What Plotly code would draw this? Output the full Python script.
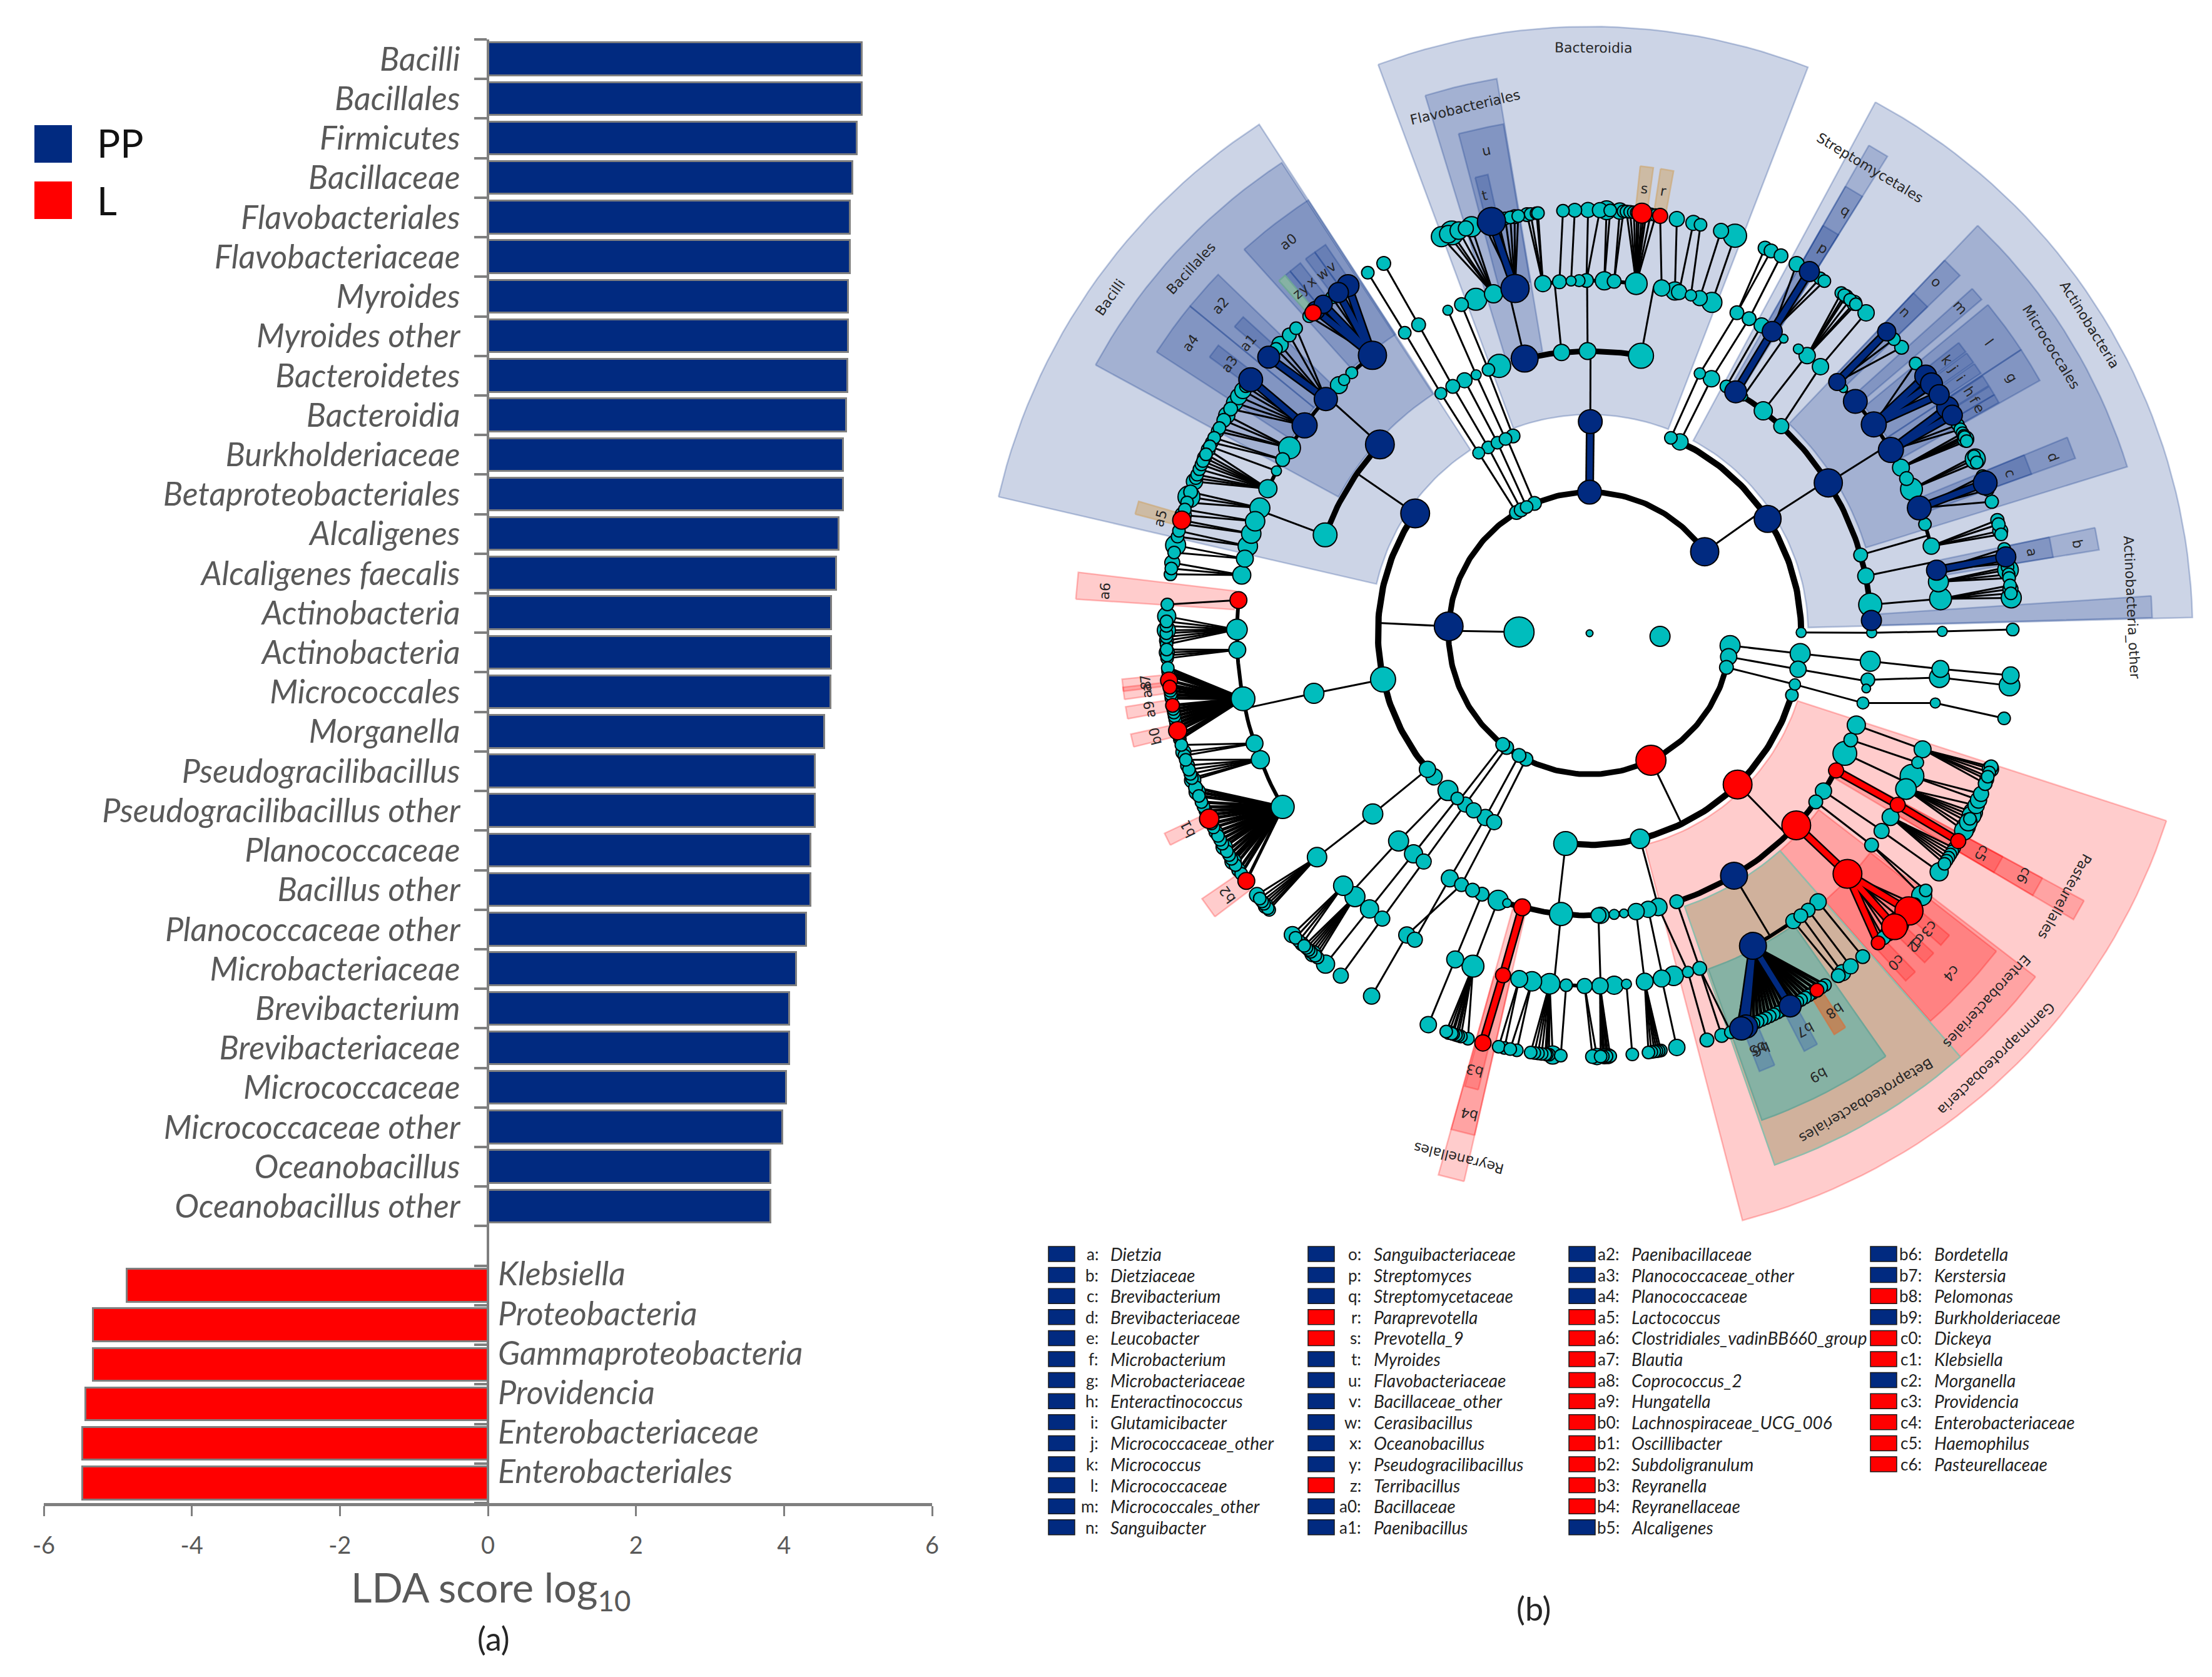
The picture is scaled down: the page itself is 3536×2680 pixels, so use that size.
import math
import plotly.graph_objects as go

W, H = 3536, 2680

# ---------- panel (a) data ----------
BLUE_NAMES = ["Bacilli","Bacillales","Firmicutes","Bacillaceae","Flavobacteriales","Flavobacteriaceae","Myroides",
              "Myroides other","Bacteroidetes","Bacteroidia","Burkholderiaceae","Betaproteobacteriales","Alcaligenes",
              "Alcaligenes faecalis","Actinobacteria","Actinobacteria","Micrococcales","Morganella","Pseudogracilibacillus",
              "Pseudogracilibacillus other","Planococcaceae","Bacillus other","Planococcaceae other","Microbacteriaceae",
              "Brevibacterium","Brevibacteriaceae","Micrococcaceae","Micrococcaceae other","Oceanobacillus","Oceanobacillus other"]
BLUE_VALUES = [5.05,5.05,4.99,4.93,4.89,4.89,4.87,4.87,4.86,4.84,4.80,4.80,4.74,4.71,4.64,4.64,4.63,4.55,4.42,4.42,
               4.36,4.36,4.30,4.17,4.07,4.07,4.03,3.98,3.82,3.82]
RED_NAMES = ["Klebsiella","Proteobacteria","Gammaproteobacteria","Providencia","Enterobacteriaceae","Enterobacteriales"]
RED_VALUES = [-4.88,-5.33,-5.33,-5.43,-5.48,-5.48]
X_TICKS = [-6,-4,-2,0,2,4,6]
X_TICK_TEXT = ["-6","-4","-2","0","2","4","6"]

# ---------- panel (b) legend data ----------
LEGEND_COLUMNS = [
 [("a","Dietzia","b"),("b","Dietziaceae","b"),("c","Brevibacterium","b"),("d","Brevibacteriaceae","b"),("e","Leucobacter","b"),
  ("f","Microbacterium","b"),("g","Microbacteriaceae","b"),("h","Enteractinococcus","b"),("i","Glutamicibacter","b"),
  ("j","Micrococcaceae_other","b"),("k","Micrococcus","b"),("l","Micrococcaceae","b"),("m","Micrococcales_other","b"),("n","Sanguibacter","b")],
 [("o","Sanguibacteriaceae","b"),("p","Streptomyces","b"),("q","Streptomycetaceae","b"),("r","Paraprevotella","r"),("s","Prevotella_9","r"),
  ("t","Myroides","b"),("u","Flavobacteriaceae","b"),("v","Bacillaceae_other","b"),("w","Cerasibacillus","b"),("x","Oceanobacillus","b"),
  ("y","Pseudogracilibacillus","b"),("z","Terribacillus","r"),("a0","Bacillaceae","b"),("a1","Paenibacillus","b")],
 [("a2","Paenibacillaceae","b"),("a3","Planococcaceae_other","b"),("a4","Planococcaceae","b"),("a5","Lactococcus","r"),
  ("a6","Clostridiales_vadinBB660_group","r"),("a7","Blautia","r"),("a8","Coprococcus_2","r"),("a9","Hungatella","r"),
  ("b0","Lachnospiraceae_UCG_006","r"),("b1","Oscillibacter","r"),("b2","Subdoligranulum","r"),("b3","Reyranella","r"),
  ("b4","Reyranellaceae","r"),("b5","Alcaligenes","b")],
 [("b6","Bordetella","b"),("b7","Kerstersia","b"),("b8","Pelomonas","r"),("b9","Burkholderiaceae","b"),("c0","Dickeya","r"),
  ("c1","Klebsiella","r"),("c2","Morganella","b"),("c3","Providencia","r"),("c4","Enterobacteriaceae","r"),("c5","Haemophilus","r"),
  ("c6","Pasteurellaceae","r")],
]

# ---------- cladogram data: (child level, parent angle, [(angle, size[, kind])]) ----------
KINGDOMS = [(0,0,11),(1,271,48),(1,92.5,32)]
CLADES_TOP = [
 (2,271,[(95,32),(99.6,26),(104,22),(154.2,48,'r'),(206.8,22),(210,22),(216,22),(218,22),(272.8,46,'b'),(328.8,22),(331,22),(333.5,20),(337,22),(360,38,'b'),(414.7,45,'b')]),
 (3,360,[(360.2,38,'b')]),
 (3,54.7,[(22.6,20),(25.3,26),(57.3,43,'b'),(89.8,16)]),
 (3,272.8,[(227.3,26),(230,26),(257.4,40),(304.5,46,'b')]),
 (3,218,[(222,32),(218.7,20)]),(3,216,[(216,24),(213.2,24)]),(3,210,[(209.5,26)]),(3,206.8,[(206.8,24)]),
 (3,154.2,[(107,20),(135.6,46,'r'),(166.2,31),(186.5,38)]),
 (3,95,[(95.5,32)]),(3,99.6,[(99.8,26)]),(3,104,[(104,18)]),
 (3,328.8,[(328.4,19)]),(3,331,[(331.4,20)]),(3,333.5,[(334.2,20)]),(3,337,[(336.6,20),(338.8,22)]),
]
CLADES_L4 = [
 (4,360.2,[(-13.3,43,'b'),(-5.7,26),(-0.4,27),(10.5,40)]),
 (4,22.6,[(23,18)]),(4,25.3,[(25.6,26)]),
 (4,57.3,[(29,20),(31.2,35,'b'),(33,14),(38,29),(42.8,24),(57.8,45,'b'),(73.9,22),(78.3,26),(84.2,37),(87.4,32,'b')]),
 (4,89.8,[(89.9,16)]),
 (4,304.5,[(290.4,38),(312,46,'b')]),(4,257.4,[(257.7,32)]),(4,230,[(230.2,32)]),
 (4,222,[(222.6,32)]),(4,218.7,[(218.6,29)]),(4,216,[(216,24)]),(4,209.5,[(209.7,27)]),(4,206.8,[(207,22)]),
 (4,186.5,[(168,26),(170.5,26),(173,14),(175,16),(177.7,26),(178.2,24),(185.8,37),(193.8,27,'r'),(197,14),(198.9,32),(202.4,22),(204.5,22)]),
 (4,166.2,[(165.9,28)]),
 (4,135.6,[(109,29),(112.2,22),(115.2,38),(119.1,24,'r'),(124,26),(126.7,22),(132.9,46,'r'),(149.2,43,'b'),(162,22)]),
 (4,95.5,[(95.7,32)]),(4,99.8,[(99.5,22),(101.3,14)]),(4,104,[(104.3,19)]),
 (4,328.4,[(328.2,19)]),(4,331.4,[(331,22)]),(4,334.2,[(333.7,24)]),(4,336.6,[(336.3,16)]),(4,338.8,[(339,20),(341.3,37)]),
]
CLADES_L5 = [
 (5,346.7,[(341.2,35),(344.2,29),(347.8,45,'b')]),
 (5,354.3,[(352.4,26),(355.1,22),(357,16)]),
 (5,359.6,[(-1.7,19),(-0.5,22),(2.4,29),(4,22),(7.6,35)]),
 (5,10.5,[(11.8,26),(14,29),(14.7,24),(16.7,18),(18.2,24),(20.3,32)]),
 (5,328.2,[(328.4,20)]),(5,331,[(331,22)]),(5,336.3,[(336.3,16)]),(5,339,[(338.7,22)]),
 (5,31.2,[(31.2,32,'b')]),(5,23,[(24.7,22)]),(5,25.6,[(26.9,22)]),(5,29,[(29.2,24)]),(5,33,[(33.4,14)]),
 (5,38,[(36.3,16),(38.1,26)]),(5,42.8,[(40.9,26)]),
 (5,57.8,[(44.6,27,'b'),(46,14),(48.9,38,'b'),(53.7,40,'b'),(58.7,40,'b'),(62,27),(64,22),(65.9,35),(69.2,38,'b')]),
 (5,73.9,[(72,20),(75.7,26)]),(5,78.3,[(79.7,32,'b'),(81.6,32)]),(5,84.2,[(84.4,35)]),(5,89.9,[(89.7,16)]),
 (5,312,[(294.2,29),(297.4,16),(299.5,22),(301.7,35),(306.1,40,'b'),(311.6,37,'b'),(314.7,27),(315.9,18),(317.6,19),(322,45,'b')]),
 (5,290.4,[(279.5,29),(282.2,27),(284.3,31),(286.4,31),(288.5,31),(290.8,32)]),
 (5,257.7,[(240.5,37),(249,29),(251.8,27),(259.3,38),(267.3,27),(270.6,33),(275.4,27,'r')]),
 (5,230.2,[(230.6,31)]),(5,222.6,[(224.3,31),(221.7,32)]),(5,218.6,[(218.6,29)]),(5,216,[(216,24)]),(5,209.7,[(209.7,24)]),(5,207,[(211.2,26)]),
 (5,185.8,[(180.8,24),(183.8,20),(186.5,33),(189.4,31),(191.5,27)]),
 (5,193.8,[(194.2,24,'r')]),(5,198.9,[(199.3,35)]),(5,202.4,[(202.4,27)]),
 (5,178.2,[(174,16),(176,29),(178.3,26)]),(5,170.5,[(171,27)]),(5,168,[(166.2,31),(168.2,27)]),
 (5,165.9,[(163.8,18)]),(5,162,[(161.8,22)]),
 (5,149.2,[(139.6,26),(141.7,22),(143.2,22),(144.7,24),(152.4,43,'b')]),
 (5,132.9,[(133,46,'r')]),(5,119.1,[(119.1,24,'r')]),(5,124,[(121.4,27),(124.1,24)]),(5,126.7,[(126.9,22)]),
 (5,115.2,[(113.9,38),(116.2,33)]),(5,112.2,[(111.5,19)]),(5,109,[(109.2,27)]),
 (5,95.7,[(95.8,27)]),(5,99.5,[(97.2,32)]),(5,104.3,[(101.4,16)]),
]
CLADES_L6_BACTEROIDETES = [
 (6,347.8,[(345.5,18),(346.6,45,'b'),(347.5,16),(348.5,20),(349.2,18),(349.8,22),(350.3,16)]),
 (6,344.2,[(339.5,32),(340.5,28),(341,38),(342,28),(343,24),(343.8,32)]),
 (6,352.4,[(351.5,22),(352,14),(352.8,14),(353,14)]),(6,355.1,[(356.4,16)]),(6,357,[(358,22)]),
 (6,359.5,[(-0.2,24),(1.4,24)]),(6,2.4,[(2.3,30),(2.8,18)]),(6,4,[(4.1,26),(4.6,16)]),
 (6,7.6,[(5,14),(5.5,14),(6,20),(6.4,14),(6.7,12),(7.1,32,'r'),(7.4,12),(7.7,14),(8.3,14),(9,14)]),
 (6,11.8,[(9.6,24,'r')]),(6,14,[(11.9,24)]),(6,14.7,[(14.2,24)]),(6,16.7,[(15.2,20)]),(6,18.2,[(18.1,24)]),(6,20.3,[(20.1,37)]),
 (6,328.4,[(328.4,20)]),(6,331,[(330.9,22)]),
]
CLADES_L6_ACTINO = [
 (6,31.2,[(29.3,24),(31.3,32,'b'),(33,14),(33.7,14)]),(6,24.7,[(24.5,22),(25.4,22)]),(6,26.9,[(26.9,22)]),
 (6,38.1,[(36.5,20),(37,18),(37.3,22),(38,20),(38.7,24),(39,18)]),(6,40.9,[(40.8,26)]),
 (6,44.6,[(44.6,29,'b'),(46,16),(47.5,22)]),
 (6,53.7,[(50.4,18),(52,16),(52.6,35,'b'),(53.9,35,'b'),(54.5,14),(55.7,32,'b')]),
 (6,58.7,[(57.2,14),(57.8,35,'b'),(59,32,'b'),(60.5,18),(61.2,18)]),
 (6,62,[(61.8,14),(62.2,16),(62.4,14),(62.7,26),(63,14)]),
 (6,65.9,[(65.3,20),(65.7,32),(66.2,20)]),
 (6,69.2,[(68.2,14),(69.2,38,'b'),(70.2,20),(71.9,21)]),
 (6,75.7,[(74.5,21),(75.1,21),(76,24),(76.5,16)]),
 (6,79.7,[(78.5,16),(79.6,32,'b'),(80.5,16)]),(6,81.6,[(81,14),(81.4,33),(82,18),(82.5,16)]),
 (6,84.4,[(83.5,16),(84,24),(84.6,18),(85.2,32)]),(6,89.7,[(89.5,16)]),
]
CLADES_L6_FIRMICUTES = [
 (6,322,[(318.5,16),(322.5,14),(319.2,26,'r'),(319.7,29,'b'),(321,29,'b'),(323.6,32,'b'),(325.2,35,'b')]),
 (6,311.6,[(310.7,35,'b'),(312.2,20),(313,26),(314.8,22),(316.1,18)]),
 (6,306.1,[(302,22),(303,26),(304,26),(305,26),(305.7,14),(306.8,38,'b')]),
 (6,301.7,[(298.5,16),(299,18),(300.2,22),(301,26)]),(6,299.5,[(296.8,14),(297.5,16)]),(6,297.4,[(296.2,16)]),
 (6,294.2,[(291,26),(291.5,20),(292,18),(292.8,20),(293.5,16),(294,16),(294.5,22),(295,18),(295.7,22)]),
 (6,290.8,[(288,20),(288.8,35),(289.5,22)]),(6,288.5,[(286.2,26),(287,20)]),(6,286.4,[(285,18),(285.5,29,'r')]),
 (6,284.3,[(283.2,18),(284,18)]),(6,282.2,[(281,20),(282,32)]),(6,279.5,[(278,18),(278.8,20),(279.6,24)]),
 (6,275.4,[(273.9,20)]),
 (6,270.6,[(268.5,18),(269,22),(269.5,18),(270,18),(270.4,29),(271,18),(271.6,18),(272.3,29)]),
 (6,267.3,[(266.6,14),(267,14),(267.4,24),(267.8,14)]),
 (6,259.3,[(255.5,14),(256,14),(256.7,29,'r'),(257.2,14),(257.7,14),(258.2,14),(258.7,14),(259.2,14),(259.7,14),(260.2,22,'r'),
           (261.2,14),(261.7,14),(262.2,14),(262.7,22,'r'),(263,14),(263.6,27,'r'),(264.3,14),(264.8,14),(265.3,19)]),
 (6,251.8,[(253.2,14),(253.7,24),(254.7,18)]),
 (6,249,[(249.7,26),(250,14),(250.6,14),(251.2,14),(251.8,22),(252.6,14)]),
 (6,240.5,[(234.2,27,'r'),(235.4,14),(236,22),(236.8,14),(237.4,26),(237.8,14),(238.4,14),(239,14),(239.7,26),(240.2,14),(240.8,14),
           (241.4,14),(242,22),(242.7,14),(243.3,14),(244,31,'r'),(244.6,14),(245.2,14),(245.8,14),(246.5,19),(247.4,14),(248,26),(248.6,22)]),
 (6,230.6,[(229.2,20),(229.5,14),(229.9,24),(230.3,14),(230.7,14),(231.2,14),(231.8,24)]),
]
CLADES_L6_OTHERS = [
 (6,224.3,[(222.8,22),(223.4,18),(224,18),(224.6,26)]),
 (6,221.7,[(220,14),(220.4,14),(220.8,26),(221.2,14),(221.6,18),(222,14),(222.4,14)]),
 (6,218.6,[(218.6,29)]),(6,216,[(216,24)]),(6,211.2,[(211,26)]),
 (6,202.4,[(202.4,26)]),
 (6,199.3,[(196.7,16),(197.7,14),(198.1,14),(198.4,20),(198.8,14),(199,14),(199.4,22),(199.8,18)]),
 (6,194.2,[(194.6,26,'r')]),(6,191.5,[(191.6,14),(192.4,20)]),(6,189.4,[(189.9,20),(190.8,14)]),
 (6,186.5,[(185,29),(185.5,14),(185.8,14),(186,14),(186.5,14),(187,14),(187.5,14),(188,20)]),
 (6,183.8,[(183.9,20)]),(6,180.8,[(179,26),(179.6,22)]),
 (6,178.3,[(177.2,14),(177.5,24),(177.7,14),(178,24),(178.2,14),(178.5,14)]),
 (6,174,[(174.2,19)]),(6,171,[(170.3,16),(170.6,20),(170.9,14),(171.2,14),(171.6,14),(172,16)]),(6,168.2,[(168.1,26)]),
 (6,163.8,[(163.9,22)]),(6,161.8,[(160.5,18),(161.8,22)]),
 (6,95.8,[(95.7,27)]),(6,97.2,[(97.1,33)]),(6,101.4,[(101.6,16)]),
]
CLADES_L6_GAMMA = [
 (6,152.4,[(146.2,16),(146.8,18),(147.5,22,'r'),(148.2,14),(148.8,16),(149.4,14),(150,16),(150.6,14),(151.1,14),(151.7,35,'b'),(152.4,14),(153,14),
           (153.6,16),(154.2,14),(154.8,16),(155.4,14),(156,18),(156.6,14),(157.2,16),(157.8,14),(158.3,37,'b'),(159,37,'b'),(159.6,20)]),
 (6,144.7,[(144,22)]),(6,143.2,[(143.3,26)]),(6,141.7,[(141.9,24)]),(6,139.6,[(139.8,22)]),
 (6,133,[(129.8,16),(130.4,18),(131,45,'r'),(132.5,14),(133.9,41,'r'),(133.4,37,'b'),(134.5,16),(135.2,24),(136,22),(137,22,'r')]),
 (6,126.9,[(127.4,14),(128.3,32)]),(6,124.1,[(124.3,29)]),
 (6,121.4,[(120.5,18),(121,18),(121.5,18),(122,20),(122.5,20),(123,20)]),
 (6,119.1,[(119.4,24,'r')]),
 (6,116.2,[(114,26),(115,30),(115.5,30),(116,18),(116.5,28),(117.2,30),(117.8,30)]),
 (6,113.9,[(112.3,24),(113.2,26)]),
 (6,109.2,[(108.4,22),(108.7,26),(109.2,18),(109.8,18),(110.2,22),(110.8,22)]),
]

# ---------- highlighted sectors: (start angle, end angle, inner r, outer r, colour key) ----------
SECTORS = [
 (283,327,3.1,8.6,'b'),(298.5,326.8,4.05,7.97,'b'),(318,327,5.05,7.32,'b'),(309.3,314,5.05,7.32,'b'),(303,309.3,5.05,7.32,'b'),
 (310.8,312.4,6.05,6.65,'b'),(306,307.8,6.05,6.66,'b'),(324.2,325.8,6.05,6.66,'b'),(322.8,324.2,6.05,6.66,'b'),(320.4,322,6.05,6.66,'b'),
 (319.4,320.4,6.05,6.66,'b'),(318.6,319.6,6.05,6.66,'t'),(284.7,286.3,6.05,6.66,'k'),(273.8,276.8,5.05,7.3,'r'),
 (262.9,264.4,6.05,6.66,'r'),(261.9,263.4,6.05,6.66,'r'),(259.5,261,6.05,6.66,'r'),(256,257.6,6.05,6.66,'r'),(243.2,244.8,6.05,6.66,'r'),(232.9,235.6,6.05,6.66,'r'),
 (339.6,21.1+360,3.1,8.6,'b'),(343,350.5,4.05,7.97,'b'),(345.3,350.4,5.05,7.32,'b'),(345.9,347.5,6.05,6.66,'b'),
 (6.2,7.8,6.05,6.66,'k'),(8.7,10.3,6.05,6.66,'k'),
 (28.3,88.5,3.1,8.55,'b'),(29.8,32,4.05,7.97,'b'),(29.8,32,5.05,7.3,'b'),(29.8,32,6.05,6.66,'b'),
 (43.6,72.8,4.1,7.98,'b'),(43.6,46,5.05,7.3,'b'),(43.6,46,6.05,6.66,'b'),(48,49.6,5.05,7.3,'b'),(50.5,56.7,5.05,7.32,'b'),(56.7,60.7,5.05,7.32,'b'),
 (51.8,53.2,6.05,6.66,'b'),(53.4,54.8,6.05,6.66,'b'),(55,56.4,6.05,6.66,'b'),(56.8,58.2,6.05,6.66,'b'),(58.3,59.5,6.05,6.66,'b'),(59.5,60.6,6.05,6.66,'b'),
 (67.7,70.2,5.05,7.32,'b'),(67.7,70.2,6.05,6.66,'b'),(78.2,80.7,5.05,7.32,'b'),(78.2,80.7,6.05,6.66,'b'),(86.2,88.4,4.05,7.98,'b'),
 (192.9,195.6,4.05,7.97,'r'),(192.9,195.6,5.05,7.3,'r'),(193.7,195.4,6.05,6.66,'r'),
 (108,165.4,3.1,8.6,'r'),(127.6,138.8,4.1,7.98,'r'),(128,138.7,5.05,7.32,'r'),(130,131.6,6.05,6.66,'r'),(132.9,134.5,6.05,6.66,'r'),(136.1,137.7,6.05,6.66,'r'),
 (118.4,120.6,4.05,7.97,'r'),(118.4,120.6,5.05,7.3,'r'),(118.4,120.6,6.05,6.66,'r'),
 (138.8,160.8,4.1,7.98,'u'),(145,160.5,5.05,7.32,'t'),(156.8,158.8,6.05,6.66,'s'),(151,152.8,6.05,6.66,'s'),(147,148.6,6.05,6.66,'o'),
]

# ---------- rotated sector labels: (text, angle, radius) ----------
SECTOR_LABELS = [
 ("Bacilli",305,8.3),("Bacillales",312.5,7.66),("a0",322.4,7.0),("a2",311.6,7.0),("a4",306,7.0),("a1",310.4,6.35),("a3",306.8,6.37),
 ("v",324.8,6.35),("w",323.4,6.35),("x",321.6,6.35),("y",320.3,6.35),("z",319.3,6.35),("a5",285,6.3),("a6",275,6.9),
 ("a7",263.6,6.33),("a8",262.7,6.33),("a9",260.2,6.33),("b0",256.7,6.33),("b1",244,6.33),("b2",234.2,6.33),
 ("Bacteroidia",0.4,8.3),("Flavobacteriales",346.7,7.66),("u",347.9,7.0),("t",346.5,6.38),("s",7,6.35),("r",9.5,6.35),
 ("Streptomycetales",31.1,7.7),("q",31.2,7.0),("p",31.2,6.38),("Actinobacteria",58.3,8.33),("Micrococcales",58.2,7.7),
 ("o",44.6,7.0),("n",44.5,6.38),("m",48.7,7.0),("l",53.9,7.0),("g",58.8,7.0),("k",52.6,6.38),("j",54,6.38),("i",55.5,6.38),
 ("h",57.5,6.38),("f",58.8,6.38),("e",60,6.38),("d",69.2,7.03),("c",69.2,6.38),("b",79.6,7.03),("a",79.6,6.38),
 ("Actinobacteria_other",87.3,7.69),("Reyranellales",194,7.67),("b4",194,7.02),("b3",194.7,6.4),
 ("Gammaproteobacteria",136.3,8.34),("Betaproteobacteriales",149.4,7.7),("Enterobacteriales",132.8,7.68),("Pasteurellales",119,7.7),
 ("c4",133.2,7.04),("c6",119.1,7.05),("c5",119.3,6.38),("b9",152.6,7.05),("b7",151.5,6.4),("b8",147,6.38),("b5",158,6.35),("b6",157.6,6.38),
 ("c3",131,6.38),("c2",133.7,6.38),("c1",133.2,6.38),("c0",137,6.38),
]

# ---------- styling / geometry ----------
CX, CY, UNIT = 2541, 1012, 112.75
GREEN, NAVY, RED = "#00BDBD", "#012A80", "#FF0000"
GREY, TXT = "#7F7F7F", "#595959"
KIND_COL = {'g':GREEN,'b':NAVY,'r':RED}
ARC_W = {2:9,3:10,4:9,5:6}
LEAF_MIN_SIZE = 20
SECTOR_FILL = {'b':("rgba(0,42,130,0.2)","rgba(0,42,130,0.25)"),'r':("rgba(255,0,0,0.2)","rgba(255,0,0,0.25)"),
               'u':("#D0B19C","#8FBCAB"),'t':("#86B2A4","#6FA698"),'s':("rgba(70,110,170,0.45)","rgba(70,110,170,0.5)"),
               'o':("rgba(205,120,70,0.75)","rgba(205,120,70,0.8)"),'k':("rgba(205,170,120,0.6)","rgba(205,170,120,0.7)")}

def pos(angle, r):
    a = math.radians(angle)
    return CX + UNIT*r*math.sin(a), CY - UNIT*r*math.cos(a)

fig = go.Figure()

# --- bars ---
n_blue = len(BLUE_NAMES)
blue_y = list(range(n_blue))
red_y = [n_blue + 1 + i for i in range(len(RED_NAMES))]
total = n_blue + 1 + len(RED_NAMES)
fig.add_trace(go.Bar(x=BLUE_VALUES, y=blue_y, orientation='h', width=0.83, name="PP",
                     marker=dict(color=NAVY, line=dict(color=GREY, width=3)), hoverinfo='skip', showlegend=False))
fig.add_trace(go.Bar(x=RED_VALUES, y=red_y, orientation='h', width=0.83, name="L",
                     marker=dict(color=RED, line=dict(color=GREY, width=3)), hoverinfo='skip', showlegend=False))

# --- sectors ---
for a1, a2, r1, r2, key in SECTORS:
    steps = max(2, int((a2-a1)/1.5))
    ang = [a1 + (a2-a1)*i/steps for i in range(steps+1)]
    pts = [pos(t, r2) for t in ang] + [pos(t, r1) for t in reversed(ang)]
    pts.append(pts[0])
    fill, edge = SECTOR_FILL[key]
    fig.add_trace(go.Scatter(x=[p[0] for p in pts], y=[p[1] for p in pts], mode='lines', fill='toself', fillcolor=fill,
                             line=dict(color=edge, width=2.5), xaxis='x2', yaxis='y2', hoverinfo='skip', showlegend=False))

# --- tree ---
ALL_CLADES = CLADES_TOP + CLADES_L4 + CLADES_L5 + CLADES_L6_BACTEROIDETES + CLADES_L6_ACTINO + CLADES_L6_FIRMICUTES + CLADES_L6_OTHERS + CLADES_L6_GAMMA
kind_of = {}
for lev, pa, kids in ALL_CLADES:
    for k in kids:
        kind_of[(lev, round(k[0] % 360, 1))] = k[2] if len(k) > 2 else 'g'

thin_x, thin_y = [], []
fan_x, fan_y = [], []
thick = {'b':([],[]), 'r':([],[])}
arcs = {2:([],[]),3:([],[]),4:([],[]),5:([],[])}
for lev, pa, kids in ALL_CLADES:
    pk = kind_of.get((lev-1, round(pa % 360, 1)), 'g')
    p0 = pos(pa, lev-1)
    if lev <= 5 and len(kids) > 1:
        angles = [k[0] for k in kids]
        lo, hi = min(angles), max(angles)
        pm = pa
        while pm < lo - 180: pm += 360
        while pm > hi + 180: pm -= 360
        lo, hi = min(lo, pm), max(hi, pm)
        xs, ys = arcs[lev]
        n = max(2, int((hi-lo)/1.0))
        for i in range(n+1):
            p = pos(lo + (hi-lo)*i/n, lev)
            xs.append(p[0]); ys.append(p[1])
        xs.append(None); ys.append(None)
        p1 = pos(pa, lev)
        thin_x += [p0[0], p1[0], None]; thin_y += [p0[1], p1[1], None]
    else:
        for k in kids:
            p1 = pos(k[0], lev)
            ck = k[2] if len(k) > 2 else 'g'
            if ck == pk and ck in thick:
                thick[ck][0].extend([p0[0], p1[0], None]); thick[ck][1].extend([p0[1], p1[1], None])
            elif len(kids) >= 15:
                fan_x += [p0[0], p1[0], None]; fan_y += [p0[1], p1[1], None]
            else:
                thin_x += [p0[0], p1[0], None]; thin_y += [p0[1], p1[1], None]

fig.add_trace(go.Scatter(x=thin_x, y=thin_y, mode='lines', line=dict(color='black', width=3), xaxis='x2', yaxis='y2', hoverinfo='skip', showlegend=False))
fig.add_trace(go.Scatter(x=fan_x, y=fan_y, mode='lines', line=dict(color='black', width=5), xaxis='x2', yaxis='y2', hoverinfo='skip', showlegend=False))
for lev, (xs, ys) in arcs.items():
    fig.add_trace(go.Scatter(x=xs, y=ys, mode='lines', line=dict(color='black', width=ARC_W[lev]), xaxis='x2', yaxis='y2', hoverinfo='skip', showlegend=False))
for key, (xs, ys) in thick.items():
    fig.add_trace(go.Scatter(x=xs, y=ys, mode='lines', line=dict(color='black', width=14), xaxis='x2', yaxis='y2', hoverinfo='skip', showlegend=False))
    fig.add_trace(go.Scatter(x=xs, y=ys, mode='lines', line=dict(color=KIND_COL[key], width=9), xaxis='x2', yaxis='y2', hoverinfo='skip', showlegend=False))

nodes = [(lev, a, s, 'g') for lev, a, s in KINGDOMS]
for lev, pa, kids in ALL_CLADES:
    for k in kids:
        size = max(k[1], LEAF_MIN_SIZE) if lev == 6 else k[1]
        nodes.append((lev, k[0], size, k[2] if len(k) > 2 else 'g'))
order = {'g':0,'b':1,'r':2}
nodes.sort(key=lambda n: (order[n[3]], -n[2]))
nx, ny, ns, nc = [], [], [], []
for lev, a, s, kind in nodes:
    p = pos(a, lev)
    nx.append(p[0]); ny.append(p[1]); ns.append(s); nc.append(KIND_COL[kind])
fig.add_trace(go.Scatter(x=nx, y=ny, mode='markers', marker=dict(size=ns, color=nc, opacity=1, line=dict(color='black', width=2)),
                         xaxis='x2', yaxis='y2', hoverinfo='skip', showlegend=False))

annotations, shapes = [], []
# sector labels
for text, a, r in SECTOR_LABELS:
    p = pos(a, r)
    annotations.append(dict(x=p[0], y=p[1], xref='x2', yref='y2', text=text, showarrow=False, textangle=a % 360 if a % 360 <= 180 else a % 360 - 360,
                            font=dict(family="DejaVu Sans", size=22, color="#262626"), xanchor='center', yanchor='middle'))

# red bar labels
for name, y in zip(RED_NAMES, red_y):
    annotations.append(dict(x=0, y=y, xref='x', yref='y', text=name, showarrow=False, xanchor='left', yanchor='middle', xshift=14, yshift=20,
                            font=dict(family="Lato", size=52, color=TXT, style='italic')))

# main captions
annotations += [
    dict(x=784, y=2541, xref='x2', yref='y2', text="LDA score log<sub>10</sub>", showarrow=False, font=dict(family="Lato", size=65, color=TXT)),
    dict(x=789, y=2618, xref='x2', yref='y2', text="(a)", showarrow=False, font=dict(family="Lato", size=52, color="#262626")),
    dict(x=2451, y=2570, xref='x2', yref='y2', text="(b)", showarrow=False, font=dict(family="Lato", size=52, color="#262626")),
    dict(x=153, y=228, xref='x2', yref='y2', text="PP", showarrow=False, xanchor='left', font=dict(family="Lato", size=62, color="#111111")),
    dict(x=153, y=320, xref='x2', yref='y2', text="L", showarrow=False, xanchor='left', font=dict(family="Lato", size=62, color="#111111")),
]
shapes.append(dict(type='rect', xref='x2', yref='y2', x0=55, x1=115, y0=200, y1=260, fillcolor=NAVY, line=dict(width=0)))
shapes.append(dict(type='rect', xref='x2', yref='y2', x0=55, x1=115, y0=290, y1=350, fillcolor=RED, line=dict(width=0)))

# cladogram legend
COL_SQUARE_X = [1676, 2091, 2508, 2990]
COL_KEY_X = [1758, 2178, 2591, 3074]
COL_NAME_X = [1773, 2194, 2606, 3090]
ROW0, ROW_STEP = 2004, 33.6
for c, col in enumerate(LEGEND_COLUMNS):
    for i, (key, name, kind) in enumerate(col):
        y = ROW0 + i*ROW_STEP
        shapes.append(dict(type='rect', xref='x2', yref='y2', x0=COL_SQUARE_X[c], x1=COL_SQUARE_X[c]+42, y0=y-12, y1=y+12,
                           fillcolor=KIND_COL[kind], line=dict(color='#1a1a1a', width=1.5)))
        annotations.append(dict(x=COL_KEY_X[c], y=y, xref='x2', yref='y2', text=key+":", showarrow=False, xanchor='right',
                                font=dict(family="Lato", size=26, color="#222222")))
        annotations.append(dict(x=COL_NAME_X[c], y=y, xref='x2', yref='y2', text=name, showarrow=False, xanchor='left',
                                font=dict(family="Lato", size=28, color="#222222", style='italic')))

boundaries = [i - 0.5 for i in range(total + 1)]
fig.update_layout(
    width=W, height=H, margin=dict(l=0, r=0, t=0, b=0, autoexpand=False), paper_bgcolor='white', plot_bgcolor='rgba(0,0,0,0)',
    bargap=0, barmode='overlay', showlegend=False, shapes=shapes, annotations=annotations,
    xaxis=dict(domain=[70/W, 1490/W], range=[-6, 6], tickvals=X_TICKS, ticktext=X_TICK_TEXT, ticks='outside', ticklen=16, tickwidth=3, tickcolor=GREY,
               showline=True, linecolor=GREY, linewidth=5, showgrid=False, zeroline=False, anchor='y',
               tickfont=dict(family="Lato", size=38, color=TXT), ticklabelstandoff=14),
    yaxis=dict(domain=[1-2402/H, 1-63/H], range=[total-0.5, -0.5], anchor='free', position=780/W, side='left',
               tickvals=blue_y, ticktext=BLUE_NAMES, ticks='', showline=True, linecolor=GREY, linewidth=4, showgrid=False, zeroline=False,
               tickfont=dict(family="Lato", size=52, color=TXT, style='italic'), ticklabelstandoff=32,
               minor=dict(tickvals=boundaries, ticks='outside', ticklen=20, tickwidth=4, tickcolor=GREY, showgrid=False)),
    xaxis2=dict(domain=[0, 1], range=[0, W], visible=False, anchor='y2', fixedrange=True),
    yaxis2=dict(domain=[0, 1], range=[H, 0], visible=False, anchor='x2', fixedrange=True),
)

fig.write_html("out.html", config=dict(displayModeBar=False), post_script="document.body.style.margin='0';")
